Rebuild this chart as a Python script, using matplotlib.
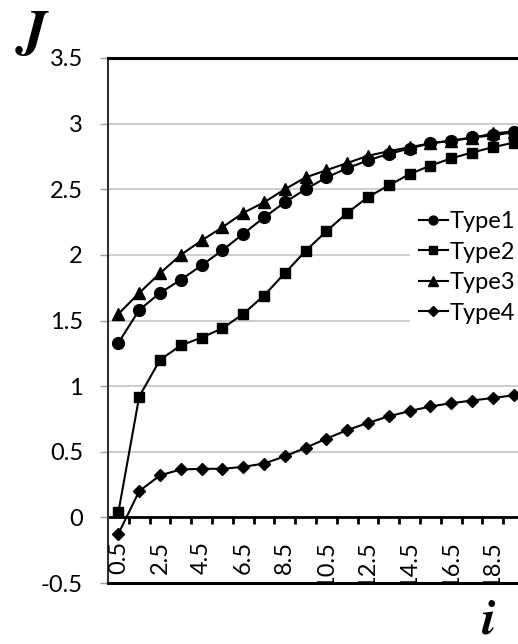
import numpy as np
import matplotlib
matplotlib.use("Agg")
import matplotlib.pyplot as plt

# categories i = 0.5 ... 19.5
i_vals = np.arange(0.5, 20.0, 1.0)
x_labels = ["0.5", "2.5", "4.5", "6.5", "8.5", "10.5", "12.5", "14.5", "16.5", "18.5"]
y_ticks = [-0.5, 0, 0.5, 1, 1.5, 2, 2.5, 3, 3.5]
y_labels = ["-0.5", "0", "0.5", "1", "1.5", "2", "2.5", "3", "3.5"]

type1 = [1.33, 1.58, 1.71, 1.81, 1.92, 2.035, 2.16, 2.285, 2.40, 2.50,
         2.59, 2.66, 2.72, 2.77, 2.81, 2.85, 2.87, 2.895, 2.91, 2.935]
type2 = [0.04, 0.92, 1.20, 1.31, 1.37, 1.44, 1.55, 1.69, 1.86, 2.03,
         2.18, 2.32, 2.44, 2.53, 2.615, 2.68, 2.735, 2.78, 2.82, 2.855]
type3 = [1.55, 1.71, 1.86, 2.00, 2.11, 2.21, 2.32, 2.40, 2.50, 2.59,
         2.645, 2.70, 2.755, 2.79, 2.82, 2.85, 2.87, 2.89, 2.925, 2.94]
type4 = [-0.125, 0.20, 0.32, 0.365, 0.37, 0.37, 0.385, 0.41, 0.465, 0.53,
         0.60, 0.665, 0.72, 0.77, 0.81, 0.845, 0.87, 0.89, 0.91, 0.93]

series = [("Type1", type1, "o", 8.5),
          ("Type2", type2, "s", 7),
          ("Type3", type3, "^", 9),
          ("Type4", type4, "D", 6.5)]

plt.rcParams["font.family"] = ["Lato", "DejaVu Sans"]
plt.rcParams["mathtext.fontset"] = "cm"

W, H = 518, 644
fs = 17
fig = plt.figure(figsize=(W / 100, H / 100), dpi=100)
n_cat = 21
ax = fig.add_axes([108 / W, 61 / H, n_cat * 20.8 / W, 525 / H])

for name, vals, mk, ms in series:
    ax.plot(i_vals, vals, color="black", lw=1.5, marker=mk, ms=ms,
            label=name, clip_on=False, zorder=3)

ax.set_xlim(0, n_cat)
ax.set_ylim(-0.5, 3.5)

# y axis
ax.set_yticks(y_ticks)
ax.set_yticklabels(y_labels, fontsize=fs)
ax.tick_params(axis="y", direction="out", length=6, width=1, color="#a0a0a0",
               pad=12, labelcolor="black")
ax.yaxis.grid(True, color="#c0c0c0", lw=1.1)
ax.set_axisbelow(True)

# x axis drawn at J = 0, Excel style
ax.set_xticks([])
ax.axhline(0, color="black", lw=2, zorder=2)
bounds = np.arange(1, n_cat)
ax.vlines(bounds, -0.048, 0, color="black", lw=2, zorder=2)
for v, lab in zip(i_vals[::2], x_labels):
    ax.text(v, -0.18, lab, rotation=90, ha="center", va="top",
            fontsize=fs, clip_on=True)

for side in ["top", "bottom"]:
    ax.spines[side].set_linewidth(2.2)
    ax.spines[side].set_color("black")
ax.spines["left"].set_linewidth(1.5)
ax.spines["left"].set_color("#303030")

leg = ax.legend(loc="upper left", bbox_to_anchor=(398 / W, 1 - 190 / H),
                bbox_transform=fig.transFigure, fontsize=fs, frameon=True,
                fancybox=False, edgecolor="none", facecolor="white",
                framealpha=1, handlelength=1.2, handletextpad=0.1,
                labelspacing=0.4, borderpad=0.4, markerscale=0.75)

fig.text(33 / W, 1 - 33 / H, r"$\boldsymbol{J}$", fontsize=42,
         ha="center", va="center")
fig.text(489 / W, 2 / H, r"$\boldsymbol{i}$", fontsize=36,
         ha="center", va="bottom")

fig.savefig("out.png", dpi=100)
